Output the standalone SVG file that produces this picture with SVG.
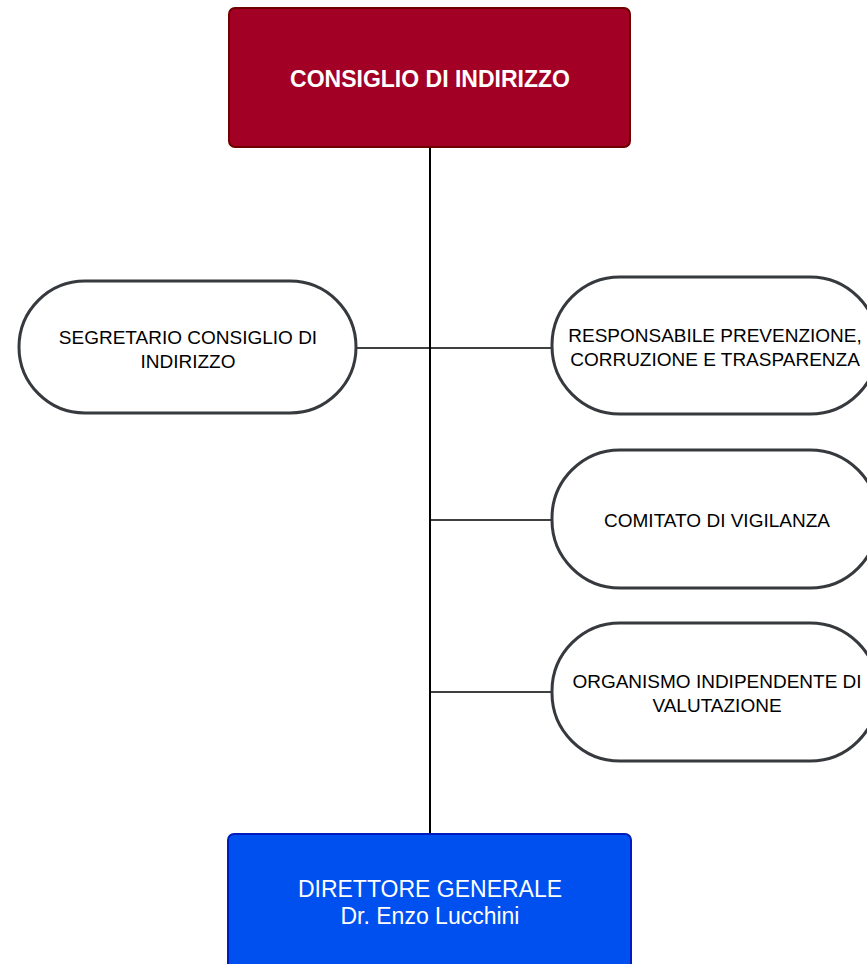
<svg xmlns="http://www.w3.org/2000/svg" width="867" height="964" viewBox="0 0 867 964">
<style>
.pill{fill:#fff;stroke:#36393d;stroke-width:3}
.t{font-family:"Liberation Sans",Arial,sans-serif;font-size:19px;fill:#000;text-anchor:middle}
.w{font-family:"Liberation Sans",Arial,sans-serif;font-size:23px;fill:#fff;text-anchor:middle}
.c{stroke:#000;fill:none}
</style>
<rect width="867" height="964" fill="#fff"/>
<g id="connectors">
<line class="c" x1="430" y1="147" x2="430" y2="834" stroke-width="2"/>
<line class="c" x1="356" y1="348" x2="430" y2="348" stroke-width="1.5"/>
<line class="c" x1="430" y1="348" x2="552" y2="348" stroke-width="1.5"/>
<line class="c" x1="430" y1="520" x2="552" y2="520" stroke-width="1.5"/>
<line class="c" x1="430" y1="692" x2="552" y2="692" stroke-width="1.5"/>
</g>
<g id="consiglio">
<rect x="229" y="8" width="401" height="139" rx="6" fill="#a20025" stroke="#6f0000" stroke-width="2"/>
<text class="w" x="430" y="87" font-weight="bold">CONSIGLIO DI INDIRIZZO</text>
</g>
<g id="segretario">
<rect class="pill" x="19" y="281" width="337" height="132" rx="66"/>
<text class="t" x="188" y="344">SEGRETARIO CONSIGLIO DI</text>
<text class="t" x="188" y="368">INDIRIZZO</text>
</g>
<g id="responsabile">
<rect class="pill" x="552" y="277" width="326" height="137" rx="68"/>
<text class="t" x="715" y="342">RESPONSABILE PREVENZIONE,</text>
<text class="t" x="715" y="366">CORRUZIONE E TRASPARENZA</text>
</g>
<g id="comitato">
<rect class="pill" x="552" y="450" width="326" height="138" rx="68"/>
<text class="t" x="717" y="527">COMITATO DI VIGILANZA</text>
</g>
<g id="organismo">
<rect class="pill" x="552" y="623" width="326" height="138" rx="68"/>
<text class="t" x="717" y="688">ORGANISMO INDIPENDENTE DI</text>
<text class="t" x="717" y="712">VALUTAZIONE</text>
</g>
<g id="direttore">
<rect x="228" y="834" width="403" height="150" rx="6" fill="#0050ef" stroke="#001dbc" stroke-width="2"/>
<text class="w" x="430" y="897">DIRETTORE GENERALE</text>
<text class="w" x="430" y="924">Dr. Enzo Lucchini</text>
</g>
</svg>
